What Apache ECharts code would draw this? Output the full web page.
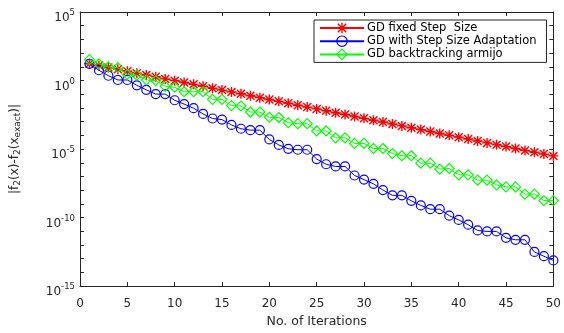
<!DOCTYPE html>
<html>
<head>
<meta charset="utf-8">
<script src="https://cdn.jsdelivr.net/npm/echarts@6/dist/echarts.min.js"></script>
<style>
html,body{margin:0;padding:0;background:#fff;}
#chart{width:564px;height:333px;}
</style>
</head>
<body>
<div id="chart"></div>
<script>
// Iterations 1..50
var iterations = [1,2,3,4,5,6,7,8,9,10,11,12,13,14,15,16,17,18,19,20,21,22,23,24,25,26,27,28,29,30,31,32,33,34,35,36,37,38,39,40,41,42,43,44,45,46,47,48,49,50];

// log10 of |f2(x)-f2(x_exact)|
var fixedStepExp = [1.22,1.10,0.95,0.83,0.68,0.53,0.40,0.27,0.12,-0.01,-0.14,-0.28,-0.42,-0.56,-0.70,-0.83,-0.97,-1.11,-1.25,-1.39,-1.52,-1.66,-1.80,-1.94,-2.07,-2.21,-2.35,-2.48,-2.62,-2.76,-2.90,-3.03,-3.17,-3.31,-3.45,-3.58,-3.72,-3.86,-4.00,-4.13,-4.27,-4.41,-4.55,-4.68,-4.82,-4.96,-5.10,-5.23,-5.37,-5.50];
var adaptiveExp = [1.22,0.75,0.35,0.04,0.04,-0.35,-0.68,-0.99,-0.99,-1.44,-1.72,-2.02,-2.44,-2.77,-2.85,-3.24,-3.52,-3.62,-3.62,-4.30,-4.70,-4.98,-5.05,-5.05,-5.73,-6.11,-6.27,-6.27,-6.93,-7.23,-7.54,-7.99,-8.38,-8.38,-8.78,-9.11,-9.39,-9.39,-9.86,-10.17,-10.52,-10.94,-11.01,-11.01,-11.48,-11.62,-11.62,-12.51,-12.82,-13.13];
var armijoExp = [1.52,1.22,0.99,0.94,0.44,0.39,0.04,0.00,-0.42,-0.49,-0.82,-0.82,-0.82,-1.37,-1.37,-1.83,-1.86,-2.30,-2.30,-2.68,-2.70,-3.08,-3.15,-3.15,-3.68,-3.68,-4.18,-4.18,-4.59,-4.59,-4.96,-4.96,-5.33,-5.49,-5.49,-6.03,-6.03,-6.46,-6.42,-6.88,-6.88,-7.27,-7.27,-7.61,-7.76,-7.76,-8.29,-8.29,-8.76,-8.76];

var seriesNames = ['GD fixed Step  Size','GD with Step Size Adaptation','GD backtracking armijo'];
var xTicks = [0,5,10,15,20,25,30,35,40,45,50];
var yTickExps = [-15,-10,-5,0,5];

function toPairs(exps){
  return iterations.map(function(it,i){ return [it, Math.pow(10, exps[i])]; });
}

var FONT = 'DejaVu Sans';
var AXC = '#262626';
var asterisk = 'path://M0 4.3H10V5.7H0Z M4.3 0H5.7V10H4.3Z M0.5 1.5L1.5 0.5L9.5 8.5L8.5 9.5Z M8.5 0.5L9.5 1.5L1.5 9.5L0.5 8.5Z';

function yLabel(v){
  var e = Math.round(Math.log(v)/Math.LN10);
  if (yTickExps.indexOf(e) < 0) return '';
  return '{b|10}{s|' + e + '}';
}

var chart = echarts.init(document.getElementById('chart'), null, {renderer:'canvas'});
var option = {
  backgroundColor: '#fff',
  animation: false,
  textStyle: {fontFamily: FONT},
  grid: {left: 80, right: 6, top: 12, bottom: 38, containLabel: false},
  legend: {
    orient: 'vertical',
    left: 314, top: 20,
    padding: [2, 10, 2, 5],
    itemWidth: 44, itemHeight: 13, itemGap: 1.2,
    backgroundColor: '#fff',
    borderColor: AXC, borderWidth: 1,
    textStyle: {fontFamily: FONT, fontSize: 11.5, color: '#000', lineHeight: 12, padding:[0,0,0,-2]},
    data: [
      {name: seriesNames[0]},
      {name: seriesNames[1], itemStyle: {color: 'rgba(0,0,0,0)', borderColor: '#0000ff', borderWidth: 1.2}},
      {name: seriesNames[2], itemStyle: {color: 'rgba(0,0,0,0)', borderColor: '#00ff00', borderWidth: 1.2}}
    ]
  },
  xAxis: [{
    type: 'value', min: 0, max: 50, interval: 5,
    name: 'No. of Iterations', nameLocation: 'middle', nameGap: 20,
    nameTextStyle: {fontFamily: FONT, fontSize: 12.5, color: AXC},
    axisLine: {show: true, lineStyle: {color: AXC, width: 1}},
    axisTick: {show: true, inside: true, length: 4, lineStyle: {color: AXC}},
    axisLabel: {fontFamily: FONT, fontSize: 12, color: AXC, margin: 12,
      formatter: function(v){ return xTicks.indexOf(v) >= 0 ? String(v) : ''; }},
    splitLine: {show: false}
  },{
    type: 'value', min: 0, max: 50, interval: 5, position: 'top',
    axisLine: {show: true, onZero: false, lineStyle: {color: AXC, width: 1}},
    axisTick: {show: true, inside: true, length: 4, lineStyle: {color: AXC}},
    axisLabel: {show: false}, splitLine: {show: false}
  }],
  yAxis: [{
    type: 'log', logBase: 10, min: 1e-15, max: 1e5, interval: 1,
    name: '{n||f}{u|2}{n|(x)-f}{u|2}{n|(x}{u|exact}{n|)|}',
    nameLocation: 'middle', nameGap: 58, nameRotate: 90,
    nameTextStyle: {
      fontFamily: FONT, color: AXC,
      rich: {
        n: {fontFamily: FONT, fontSize: 12, color: AXC},
        u: {fontFamily: FONT, fontSize: 9, color: AXC, padding: [6,0,0,0]}
      }
    },
    axisLine: {show: true, lineStyle: {color: AXC, width: 1}},
    axisTick: {show: true, inside: true, length: 4, interval: 0, lineStyle: {color: AXC}},
    minorTick: {show: false},
    axisLabel: {
      interval: 0, margin: 5, formatter: yLabel, padding: [6,0,0,0],
      rich: {
        b: {fontFamily: FONT, fontSize: 12, color: AXC, padding: [6,0,0,0]},
        s: {fontFamily: FONT, fontSize: 8.5, color: AXC, padding: [0,0,4,0]}
      }
    },
    splitLine: {show: false}
  },{
    type: 'log', logBase: 10, min: 1e-15, max: 1e5, interval: 1, position: 'right',
    axisLine: {show: true, onZero: false, lineStyle: {color: AXC, width: 1}},
    axisTick: {show: true, inside: true, length: 4, interval: 0, lineStyle: {color: AXC}},
    axisLabel: {show: false}, splitLine: {show: false}
  }],
  series: [
    {
      name: seriesNames[0], type: 'line', data: toPairs(fixedStepExp),
      symbol: asterisk, symbolSize: 10, showAllSymbol: true,
      lineStyle: {color: '#ff0000', width: 1},
      itemStyle: {color: '#ff0000'},
      z: 3
    },
    {
      name: seriesNames[1], type: 'line', data: toPairs(adaptiveExp),
      symbol: 'circle', symbolSize: 9, showAllSymbol: true,
      lineStyle: {color: '#0000ff', width: 1},
      itemStyle: {color: 'rgba(0,0,0,0)', borderColor: '#0000ff', borderWidth: 1.2},
      z: 4
    },
    {
      name: seriesNames[2], type: 'line', data: toPairs(armijoExp),
      symbol: 'diamond', symbolSize: [10, 10], showAllSymbol: true,
      lineStyle: {color: '#00ff00', width: 1},
      itemStyle: {color: 'rgba(0,0,0,0)', borderColor: '#00ff00', borderWidth: 1.2},
      z: 5
    }
  ]
};
chart.setOption(option);
</script>
</body>
</html>
